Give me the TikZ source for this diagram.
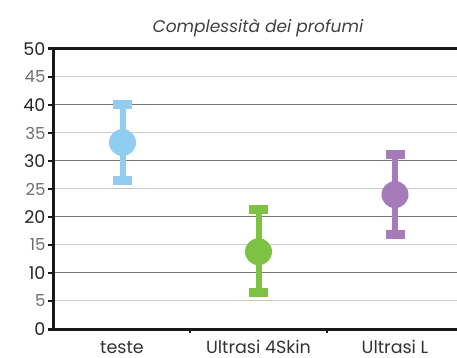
\documentclass[tikz,border=0pt]{standalone}
\usepackage{fontspec}
\setmainfont{Poppins}
\usetikzlibrary{positioning}

\definecolor{barblue}{RGB}{143,206,240}
\definecolor{bargreen}{RGB}{125,194,66}
\definecolor{barpurple}{RGB}{166,123,185}
\definecolor{majgray}{RGB}{120,120,120}
\definecolor{mingray}{RGB}{200,200,200}
\definecolor{labgray}{RGB}{110,110,110}

\begin{document}
\begin{tikzpicture}[x=1pt,y=5.6pt,
  majorgrid/.style={majgray, line width=1pt},
  minorgrid/.style={mingray, line width=1pt},
  axisline/.style={black!90, line width=3pt},
  majorlab/.style={anchor=east, font=\fontsize{17.5}{17.5}\selectfont, text=black!85},
  minorlab/.style={anchor=east, font=\fontsize{16.5}{16.5}\selectfont, text=labgray},
  catlab/.style={anchor=base, font=\fontsize{17.5}{17.5}\selectfont, text=black!80}]
\useasboundingbox (-53,-29/5.6) rectangle (404,329/5.6);
%grid
%minor
\draw[minorgrid] (0,5) -- (404,5);
\draw[minorgrid] (0,15) -- (404,15);
\draw[minorgrid] (0,25) -- (404,25);
\draw[minorgrid] (0,35) -- (404,35);
\draw[minorgrid] (0,45) -- (404,45);
%major
\draw[majorgrid] (0,10) -- (404,10);
\draw[majorgrid] (0,20) -- (404,20);
\draw[majorgrid] (0,30) -- (404,30);
\draw[majorgrid] (0,40) -- (404,40);
%ticks
\foreach \v in {0,5,...,50}
  \draw[black!90, line width=1.2pt] (-5,\v) -- (0,\v);
%axes
\draw[axisline] (-5,50) -- (404,50);
\draw[axisline] (-5,0) -- (404,0);
\draw[axisline] (0,0) -- (0,50);
\draw[black!90, line width=2pt] (137,0) -- ++(0,-4pt);
\draw[black!90, line width=2pt] (274,0) -- ++(0,-4pt);

%labels
\node[majorlab] (l0) at (-4,0) {0};
\node[minorlab] (l5) at (-4,5) {5};
\node[majorlab] (l10) at (-4,10) {10};
\node[minorlab] (l15) at (-4,15) {15};
\node[majorlab] (l20) at (-4,20) {20};
\node[minorlab] (l25) at (-4,25) {25};
\node[majorlab] (l30) at (-4,30) {30};
\node[minorlab] (l35) at (-4,35) {35};
\node[majorlab] (l40) at (-4,40) {40};
\node[minorlab] (l45) at (-4,45) {45};
\node[majorlab] (l50) at (-4,50) {50};

%teste
\draw[barblue, line width=6pt] (69.5,26.6) -- (69.5,40);
\fill[barblue] ([xshift=-9.5pt,yshift=-4.5pt]69.5,40) rectangle ++(19pt,9pt);
\fill[barblue] ([xshift=-9.5pt,yshift=-4.5pt]69.5,26.6) rectangle ++(19pt,9pt);
\fill[barblue] (69.5,33.3) circle (13.5pt);
%ultrasi 4skin
\draw[bargreen, line width=6pt] (205.5,6.6) -- (205.5,21.3);
\fill[bargreen] ([xshift=-9.5pt,yshift=-4.5pt]205.5,21.3) rectangle ++(19pt,9pt);
\fill[bargreen] ([xshift=-9.5pt,yshift=-4.5pt]205.5,6.6) rectangle ++(19pt,9pt);
\fill[bargreen] (205.5,13.8) circle (13.5pt);
%ultrasi L
\draw[barpurple, line width=6pt] (342,16.9) -- (342,31.2);
\fill[barpurple] ([xshift=-9.5pt,yshift=-4.5pt]342,31.2) rectangle ++(19pt,9pt);
\fill[barpurple] ([xshift=-9.5pt,yshift=-4.5pt]342,16.9) rectangle ++(19pt,9pt);
\fill[barpurple] (342,24) circle (13.5pt);

%categories
\node[catlab] (teste) at (69,-24pt) {teste};
\node[catlab] (skin) at (205.5,-24pt) {Ultrasi 4Skin};
\node[catlab] (ultl) at (342,-24pt) {Ultrasi L};

%title
\node[font=\fontsize{17}{17}\selectfont\itshape, text=black!75] (title) at (205,53.8) {Complessità dei profumi};
\end{tikzpicture}
\end{document}
